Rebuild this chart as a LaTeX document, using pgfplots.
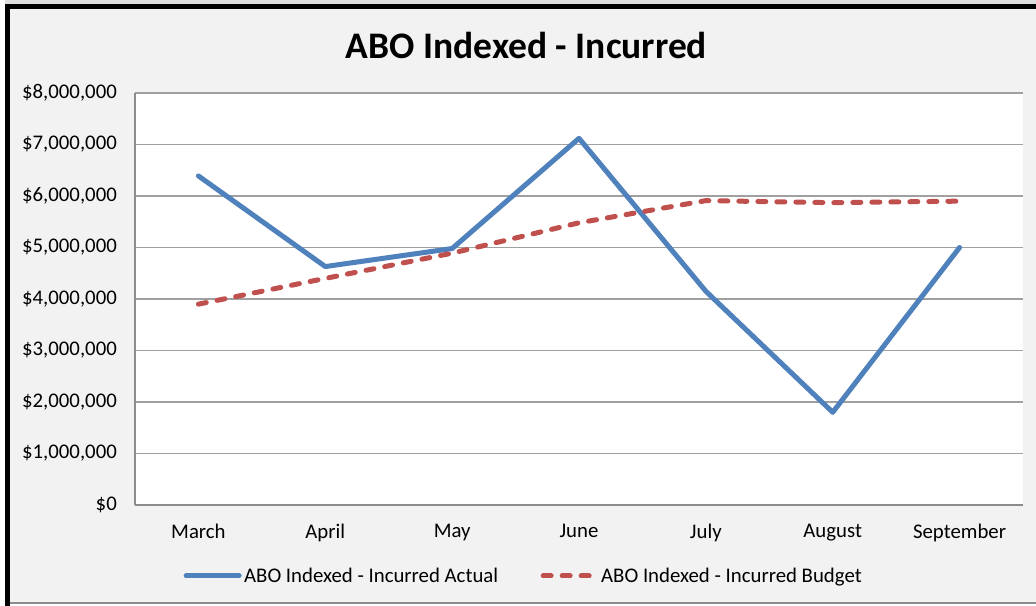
\documentclass[border=0pt]{standalone}
\usepackage{fontspec}
\setmainfont{Carlito}
\usepackage{pgfplots}
\pgfplotsset{compat=1.18}
\definecolor{bgc}{HTML}{F2F2F2}
\definecolor{gridc}{HTML}{A0A0A0}
\definecolor{axc}{HTML}{8C8C8C}
\definecolor{blueS}{HTML}{4F81BD}
\definecolor{redS}{HTML}{C0504D}
\begin{document}
\begin{tikzpicture}
\useasboundingbox (0,0) rectangle (1036bp,606bp);
\fill[white] (0,0) rectangle (1036bp,606bp);
\fill[gray!25] (5bp,601bp) rectangle (1036bp,606bp);
\fill[bgc] (10bp,3bp) rectangle (1036bp,597bp);
\fill[black] (5bp,0bp) rectangle (10bp,601bp);
\fill[black] (5bp,597bp) rectangle (1036bp,601.5bp);
\draw[axc, line width=1.5bp] (10bp,3bp) -- (1036bp,3bp);
\begin{axis}[
  at={(135bp,101bp)}, anchor=south west,
  scale only axis, width=888bp, height=412bp,
  xmin=-0.5, xmax=6.5, ymin=0, ymax=8000000,
  xtick={0,1,2,3,4,5,6},
  xticklabels={March,April,May,June,July,August,September},
  ytick={0,1000000,2000000,3000000,4000000,5000000,6000000,7000000,8000000},
  yticklabels={{\$0},{\$1,000,000},{\$2,000,000},{\$3,000,000},{\$4,000,000},{\$5,000,000},{\$6,000,000},{\$7,000,000},{\$8,000,000}},
  scaled y ticks=false,
  major tick length=0pt,
  ymajorgrids,
  grid style={color=gridc, line width=1.5bp},
  axis x line*=bottom, axis y line*=left,
  axis line style={color=axc, line width=1.8bp, -},
  axis background/.style={fill=white},
  tick label style={font=\fontsize{20.8bp}{24bp}\selectfont, text=black},
  yticklabel style={anchor=east, inner sep=0pt, xshift=-18bp},
  xticklabel style={anchor=north, inner sep=0pt, yshift=-19bp},
  title={ABO Indexed - Incurred},
  title style={at={(0.4409,1.101)}, anchor=center, font=\bfseries\fontsize{37.5bp}{42bp}\selectfont},
  legend columns=2,
  legend style={at={(0.438,-0.1723)}, anchor=center, draw=none, fill=none,
    font=\fontsize{20.8bp}{24bp}\selectfont,
    /tikz/every even column/.append style={column sep=40bp},
    nodes={inner sep=2.5bp}},
  legend image code/.code={\draw[#1] (0bp,0bp) -- (53bp,0bp);},
]
\addplot[color=blueS, line width=5bp, line join=round, line cap=round] coordinates {
(0,6390000) (1,4630000) (2,4980000) (3,7120000) (4,4150000) (5,1800000) (6,5000000)};
\addlegendentry{ABO Indexed - Incurred Actual}
\addplot[color=redS, line width=5bp, line cap=round, dash pattern=on 8bp off 11bp] coordinates {
(0,3900000) (1,4400000) (2,4890000) (3,5480000) (4,5910000) (5,5870000) (6,5900000)};
\addlegendentry{ABO Indexed - Incurred Budget}
\end{axis}
\end{tikzpicture}
\end{document}
